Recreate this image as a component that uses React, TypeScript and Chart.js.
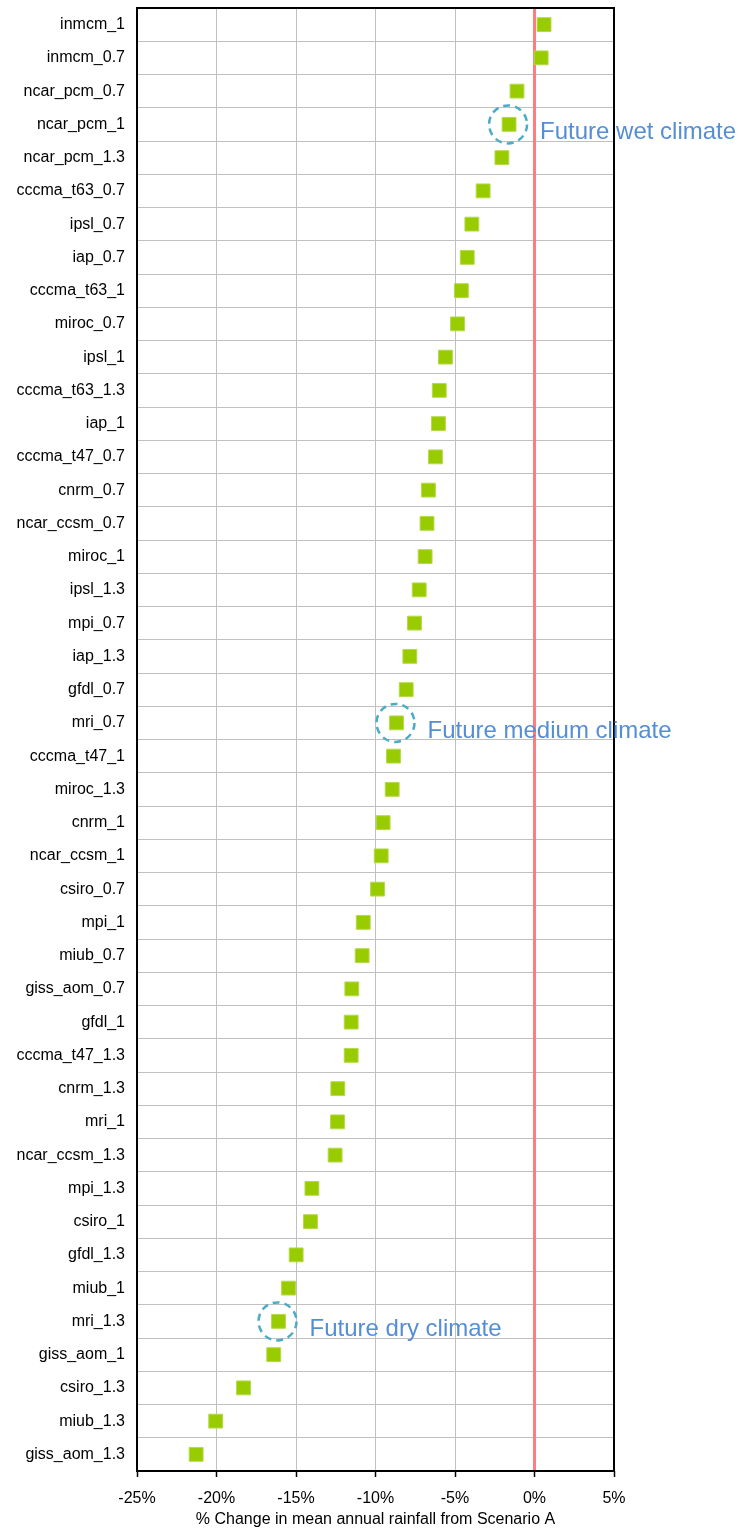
import React, { useEffect, useRef } from "react";
import { Chart, registerables } from "chart.js";

Chart.register(...registerables);

const categories: string[] = [
  "inmcm_1", "inmcm_0.7", "ncar_pcm_0.7", "ncar_pcm_1", "ncar_pcm_1.3",
  "cccma_t63_0.7", "ipsl_0.7", "iap_0.7", "cccma_t63_1", "miroc_0.7",
  "ipsl_1", "cccma_t63_1.3", "iap_1", "cccma_t47_0.7", "cnrm_0.7",
  "ncar_ccsm_0.7", "miroc_1", "ipsl_1.3", "mpi_0.7", "iap_1.3",
  "gfdl_0.7", "mri_0.7", "cccma_t47_1", "miroc_1.3", "cnrm_1",
  "ncar_ccsm_1", "csiro_0.7", "mpi_1", "miub_0.7", "giss_aom_0.7",
  "gfdl_1", "cccma_t47_1.3", "cnrm_1.3", "mri_1", "ncar_ccsm_1.3",
  "mpi_1.3", "csiro_1", "gfdl_1.3", "miub_1", "mri_1.3",
  "giss_aom_1", "csiro_1.3", "miub_1.3", "giss_aom_1.3",
];

const changePercent: number[] = [
  0.6, 0.42, -1.1, -1.6, -2.05,
  -3.23, -3.94, -4.23, -4.6, -4.84,
  -5.6, -5.99, -6.04, -6.23, -6.67,
  -6.76, -6.88, -7.25, -7.55, -7.84,
  -8.07, -8.68, -8.87, -8.95, -9.52,
  -9.64, -9.87, -10.77, -10.84, -11.49,
  -11.53, -11.53, -12.37, -12.39, -12.54,
  -14.0, -14.09, -14.99, -15.47, -16.1,
  -16.4, -18.3, -20.05, -21.28,
];

const xMin = -25;
const xMax = 5;
const xStep = 5;
const xTitle = "% Change in mean annual rainfall from Scenario A";

const annotationCategories: string[] = ["ncar_pcm_1", "mri_0.7", "mri_1.3"];
const annotationTexts: string[] = ["Future wet climate", "Future medium climate", "Future dry climate"];

const FONT = "'Liberation Sans', Arial, sans-serif";

const overlayPlugin = {
  id: "overlay",
  beforeDatasetsDraw(chart: any) {
    const { ctx, chartArea, scales } = chart;
    const x0 = scales.x.getPixelForValue(0);
    ctx.save();
    ctx.strokeStyle = "#FF7C80";
    ctx.lineWidth = 3;
    ctx.beginPath();
    ctx.moveTo(x0, chartArea.top);
    ctx.lineTo(x0, chartArea.bottom);
    ctx.stroke();
    ctx.strokeStyle = "#000000";
    ctx.lineWidth = 2;
    ctx.strokeRect(chartArea.left, chartArea.top, chartArea.right - chartArea.left, chartArea.bottom - chartArea.top);
    ctx.restore();
  },
  afterDatasetsDraw(chart: any) {
    const { ctx, scales } = chart;
    ctx.save();
    annotationCategories.forEach((cat, i) => {
      const idx = categories.indexOf(cat);
      if (idx < 0) return;
      const px = scales.x.getPixelForValue(changePercent[idx]);
      const py = scales.y.getPixelForValue(idx);
      ctx.strokeStyle = "#4BACC6";
      ctx.lineWidth = 2.5;
      ctx.setLineDash([7, 5]);
      ctx.beginPath();
      ctx.arc(px - 1, py, 19, 0, Math.PI * 2);
      ctx.stroke();
      ctx.setLineDash([]);
      ctx.fillStyle = "#558ED5";
      ctx.font = `24px ${FONT}`;
      ctx.textAlign = "left";
      ctx.textBaseline = "alphabetic";
      ctx.fillText(annotationTexts[i], px + 31, py + 15);
    });
    ctx.restore();
  },
};

export default function App() {
  const canvasRef = useRef<HTMLCanvasElement | null>(null);

  useEffect(() => {
    if (!canvasRef.current) return;
    const chart = new Chart(canvasRef.current, {
      type: "line",
      data: {
        labels: categories,
        datasets: [
          {
            data: changePercent,
            showLine: false,
            pointStyle: "rect",
            pointRadius: 9.8,
            pointHoverRadius: 9.8,
            pointBackgroundColor: "#99CC00",
            pointBorderColor: "#B5DA4A",
            pointBorderWidth: 1,
          },
        ],
      },
      options: {
        indexAxis: "y",
        responsive: false,
        maintainAspectRatio: false,
        animation: false,
        layout: { autoPadding: false, padding: { left: 0, right: 125, top: 8, bottom: 0 } },
        plugins: {
          legend: { display: false },
          tooltip: { enabled: false },
        },
        scales: {
          x: {
            type: "linear",
            position: "bottom",
            min: xMin,
            max: xMax,
            ticks: {
              stepSize: xStep,
              color: "#000",
              padding: 12,
              font: { family: FONT, size: 16 },
              callback: (v: any) => `${v}%`,
            },
            grid: {
              color: "#C0C0C0",
              lineWidth: 1,
              drawTicks: true,
              tickLength: 6,
              tickColor: "#000",
              tickWidth: 1.5,
            },
            border: { display: false },
            title: {
              display: true,
              text: xTitle,
              color: "#000",
              font: { family: FONT, size: 16 },
              padding: { top: 0, bottom: 1 },
            },
            afterFit: (s: any) => { s.height = 59; },
          },
          y: {
            type: "category",
            offset: true,
            ticks: {
              color: "#000",
              padding: 12,
              autoSkip: false,
              font: { family: FONT, size: 16 },
            },
            grid: {
              color: "#C0C0C0",
              lineWidth: 1,
              offset: true,
              drawTicks: false,
            },
            border: { display: false },
            afterFit: (s: any) => {
              s.width = 137;
              s.paddingTop = 0;
              s.paddingBottom = 0;
            },
          },
        },
      },
      plugins: [overlayPlugin],
    });
    return () => chart.destroy();
  }, []);

  return (
    <div style={{ position: "absolute", left: 0, top: 0, width: 739, height: 1530 }}>
      <canvas ref={canvasRef} width={739} height={1530} style={{ display: "block" }} />
    </div>
  );
}
